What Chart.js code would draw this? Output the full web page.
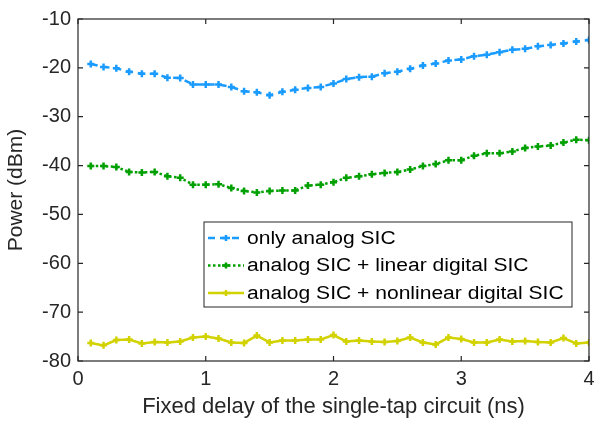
<!DOCTYPE html>
<html>
<head>
<meta charset="utf-8">
<script src="https://cdn.jsdelivr.net/npm/chart.js@4/dist/chart.umd.min.js"></script>
<style>
  body { margin: 0; background: #fff; }
  #wrap { width: 606px; height: 424px; }
</style>
</head>
<body>
<div id="wrap"><canvas id="c" width="606" height="424"></canvas></div>
<script>
// fixed delay (ns)
var delays = [0.1,0.2,0.3,0.4,0.5,0.6,0.7,0.8,0.9,1.0,1.1,1.2,1.3,1.4,1.5,1.6,1.7,1.8,1.9,2.0,
              2.1,2.2,2.3,2.4,2.5,2.6,2.7,2.8,2.9,3.0,3.1,3.2,3.3,3.4,3.5,3.6,3.7,3.8,3.9,4.0];

var onlyAnalog = [-19.2,-19.8,-20.1,-20.8,-21.2,-21.2,-22.0,-22.1,-23.4,-23.4,-23.4,-23.9,-24.8,-25.0,-25.6,-24.9,-24.5,-24.1,-23.9,-23.2,
                  -22.3,-21.9,-21.8,-21.1,-20.8,-20.2,-19.5,-19.1,-18.5,-18.3,-17.6,-17.3,-16.8,-16.3,-16.1,-15.6,-15.3,-15.0,-14.6,-14.3];

var linearDigital = [-40.1,-40.1,-40.3,-41.3,-41.4,-41.3,-42.2,-42.5,-43.9,-43.9,-43.8,-44.6,-45.2,-45.5,-45.2,-45.1,-45.1,-44.1,-43.9,-43.4,
                     -42.5,-42.2,-41.8,-41.5,-41.3,-40.8,-40.1,-39.7,-38.9,-38.9,-38.0,-37.5,-37.5,-37.1,-36.4,-36.1,-35.9,-35.3,-34.7,-34.8];

var nonlinearDigital = [-76.3,-76.8,-75.7,-75.6,-76.4,-76.1,-76.2,-76.0,-75.2,-75.0,-75.4,-76.2,-76.3,-74.8,-76.2,-75.8,-75.8,-75.6,-75.6,-74.7,
                        -76.0,-75.8,-76.0,-76.1,-75.9,-75.2,-76.2,-76.6,-75.2,-75.5,-76.2,-76.2,-75.6,-76.0,-75.9,-76.1,-76.2,-75.3,-76.4,-76.2];

var xTicks = [0, 1, 2, 3, 4];
var yTicks = [-80, -70, -60, -50, -40, -30, -20, -10];

var labels = ['only analog SIC', 'analog SIC + linear digital SIC', 'analog SIC + nonlinear digital SIC'];
var colors = ['#1a9bff', '#00a000', '#d2d200'];
var dashes = [[7, 5], [2.5, 2.5], []];

var FONT = '"Liberation Sans", Arial, sans-serif';

function toPts(ys){
    var out = [];
    for(var i = 0; i < delays.length; i++){
        out.push({x: delays[i], y: ys[i]});
    }
    return out;
}

function makeSet(i, ys){
    return {
        label: labels[i],
        data: toPts(ys),
        borderColor: colors[i],
        backgroundColor: colors[i],
        borderWidth: 2.5,
        borderDash: dashes[i],
        pointStyle: 'cross',
        pointRadius: 3.5,
        pointBorderWidth: 2.5,
        pointBorderColor: colors[i],
        tension: 0
    };
}

// matlab style box with inward ticks + legend
var boxPlugin = {
    id: 'box',
    afterDraw: function(chart){
        var ctx = chart.ctx, a = chart.chartArea;
        var xs = chart.scales.x, ys = chart.scales.y;
        ctx.save();
        ctx.strokeStyle = '#262626';
        ctx.lineWidth = 1.2;
        ctx.strokeRect(a.left, a.top, a.right - a.left, a.bottom - a.top);
        ctx.beginPath();
        xTicks.forEach(function(v){
            var px = xs.getPixelForValue(v);
            ctx.moveTo(px, a.bottom); ctx.lineTo(px, a.bottom - 5);
            ctx.moveTo(px, a.top); ctx.lineTo(px, a.top + 5);
        });
        yTicks.forEach(function(v){
            var py = ys.getPixelForValue(v);
            ctx.moveTo(a.left, py); ctx.lineTo(a.left + 5, py);
            ctx.moveTo(a.right, py); ctx.lineTo(a.right - 5, py);
        });
        ctx.stroke();

        // legend
        var lx = 204, ly = 222, lw = 368, lh = 85;
        ctx.fillStyle = '#fff';
        ctx.fillRect(lx, ly, lw, lh);
        ctx.strokeStyle = '#262626';
        ctx.lineWidth = 1;
        ctx.strokeRect(lx, ly, lw, lh);
        ctx.textBaseline = 'middle';
        for(var i = 0; i < labels.length; i++){
            var yy = ly + 16 + i * 27.5;
            ctx.strokeStyle = colors[i];
            ctx.lineWidth = 2.5;
            ctx.setLineDash(dashes[i]);
            ctx.beginPath();
            ctx.moveTo(lx + 4, yy); ctx.lineTo(lx + 40, yy);
            ctx.stroke();
            ctx.setLineDash([]);
            ctx.beginPath();
            ctx.moveTo(lx + 18, yy); ctx.lineTo(lx + 26, yy);
            ctx.moveTo(lx + 22, yy - 3); ctx.lineTo(lx + 22, yy + 3);
            ctx.stroke();
            ctx.fillStyle = '#000';
            ctx.save();
            ctx.translate(lx + 43, yy + 1);
            ctx.scale(1.17, 1);
            ctx.font = '18px ' + FONT;
            ctx.fillText(labels[i], 0, 0);
            ctx.restore();
        }
        ctx.restore();
    }
};

new Chart(document.getElementById('c'), {
    type: 'line',
    data: {
        datasets: [makeSet(0, onlyAnalog), makeSet(1, linearDigital), makeSet(2, nonlinearDigital)]
    },
    options: {
        responsive: false,
        animation: false,
        layout: { padding: { top: 11, right: 17, left: 0, bottom: 0 } },
        plugins: { legend: { display: false }, tooltip: { enabled: false } },
        scales: {
            x: {
                type: 'linear', min: 0, max: 4,
                afterBuildTicks: function(s){ s.ticks = xTicks.map(function(v){ return {value: v}; }); },
                afterFit: function(s){ s.height = 63; },
                grid: { display: false, drawTicks: false },
                border: { display: false },
                ticks: { color: '#262626', font: { size: 20, family: FONT }, padding: 6, maxRotation: 0 },
                title: { display: true, text: 'Fixed delay of the single-tap circuit (ns)', color: '#262626',
                         font: { size: 22, family: FONT }, padding: { top: 0 } }
            },
            y: {
                type: 'linear', min: -80, max: -10,
                afterBuildTicks: function(s){ s.ticks = yTicks.map(function(v){ return {value: v}; }); },
                afterFit: function(s){ s.width = 78; },
                grid: { display: false, drawTicks: false },
                border: { display: false },
                ticks: { color: '#262626', font: { size: 20, family: FONT }, padding: 7 },
                title: { display: true, text: 'Power (dBm)', color: '#262626',
                         font: { size: 21, family: FONT }, padding: { bottom: 0 } }
            }
        }
    },
    plugins: [boxPlugin]
});
</script>
</body>
</html>
